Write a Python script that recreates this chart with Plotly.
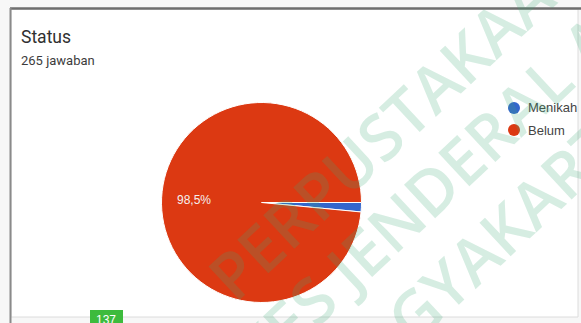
import plotly.graph_objects as go

# ---- data ----
labels = ["Menikah", "Belum"]
counts = [4, 261]
colors = ["#3366CC", "#DC3912"]
title_text = "Status"
subtitle_text = "265 jawaban"
badge_text = "137"
watermark_lines = ["PERPUSTAKAAN", "STIKES JENDERAL ACHMAD YANI", "YOGYAKARTA"]

W, H = 581, 323


def px(x):
    return x / W


def py(y):
    return 1 - y / H


total = sum(counts)
pct_belum = counts[1] / total * 100
pct_label = f"{pct_belum:.1f}".replace(".", ",") + "%"

fig = go.Figure()

# pie geometry: centre (261.5, 202.5) px, radius 100 px
cx, cy, r = 261.5, 202.5, 100
fig.add_trace(go.Pie(
    labels=labels,
    values=counts,
    marker=dict(colors=colors, line=dict(color="white", width=1)),
    sort=False,
    direction="clockwise",
    rotation=90,
    textinfo="none",
    hoverinfo="label+percent",
    showlegend=False,
    domain=dict(x=[px(cx - r), px(cx + r)], y=[py(cy + r), py(cy - r)]),
))

shapes = [
    # card
    dict(type="rect", xref="paper", yref="paper", x0=px(11), x1=px(578), y0=py(317), y1=py(9),
         fillcolor="white", line=dict(color="#dcdcdc", width=1), layer="below"),
    dict(type="line", xref="paper", yref="paper", x0=px(10), x1=px(581), y0=py(8.5), y1=py(8.5),
         line=dict(color="#6e6e6e", width=2.5)),
    dict(type="line", xref="paper", yref="paper", x0=px(10.5), x1=px(10.5), y0=py(8), y1=py(323),
         line=dict(color="#8a8a8a", width=2)),
]

# legend circles
leg_y = [108, 130]
for col, yy in zip(colors, leg_y):
    shapes.append(dict(type="circle", xref="paper", yref="paper",
                       x0=px(508), x1=px(520), y0=py(yy + 6), y1=py(yy - 6),
                       fillcolor=col, line=dict(width=0)))

# badge
shapes.append(dict(type="rect", xref="paper", yref="paper", x0=px(90), x1=px(123), y0=py(326), y1=py(310),
                   fillcolor="#3dbb3d", line=dict(width=0)))

annotations = [
    dict(text=title_text, x=px(19), y=py(37), xref="paper", yref="paper", xanchor="left", yanchor="middle",
         showarrow=False, font=dict(family="Roboto, Arial", size=17.5, color="#303030")),
    dict(text=subtitle_text, x=px(19), y=py(60), xref="paper", yref="paper", xanchor="left", yanchor="middle",
         showarrow=False, font=dict(family="Roboto, Arial", size=13, color="#3c3c3c")),
    dict(text=pct_label, x=px(194), y=py(200), xref="paper", yref="paper", xanchor="center", yanchor="middle",
         showarrow=False, font=dict(family="Liberation Sans, Arial", size=12, color="#f4f0ee")),
]
for lab, yy in zip(labels, leg_y):
    annotations.append(dict(text=lab, x=px(526), y=py(yy), xref="paper", yref="paper", xanchor="left",
                            yanchor="middle", showarrow=False,
                            font=dict(family="Liberation Sans, Arial", size=13, color="#444444")))

# watermark
wm_centres = [(398, 118), (537, 89), (485, 246)]
for txt, (wx, wy) in zip(watermark_lines, wm_centres):
    annotations.append(dict(
        text=txt,
        x=px(wx), y=py(wy), xref="paper", yref="paper", xanchor="center", yanchor="middle",
        showarrow=False, textangle=-43,
        font=dict(family="Open Sans", size=64, weight=600, color="rgba(60,170,120,0.21)"),
    ))

annotations.append(dict(text=badge_text, x=px(106.5), y=py(320), xref="paper", yref="paper",
                        xanchor="center", yanchor="middle", showarrow=False,
                        font=dict(family="Liberation Sans, Arial", size=12, color="white")))

fig.update_layout(
    width=W, height=H,
    margin=dict(l=0, r=0, t=0, b=0),
    paper_bgcolor="#f7f7f7",
    plot_bgcolor="white",
    shapes=shapes,
    annotations=annotations,
    showlegend=False,
)

fig.write_html("out.html")
